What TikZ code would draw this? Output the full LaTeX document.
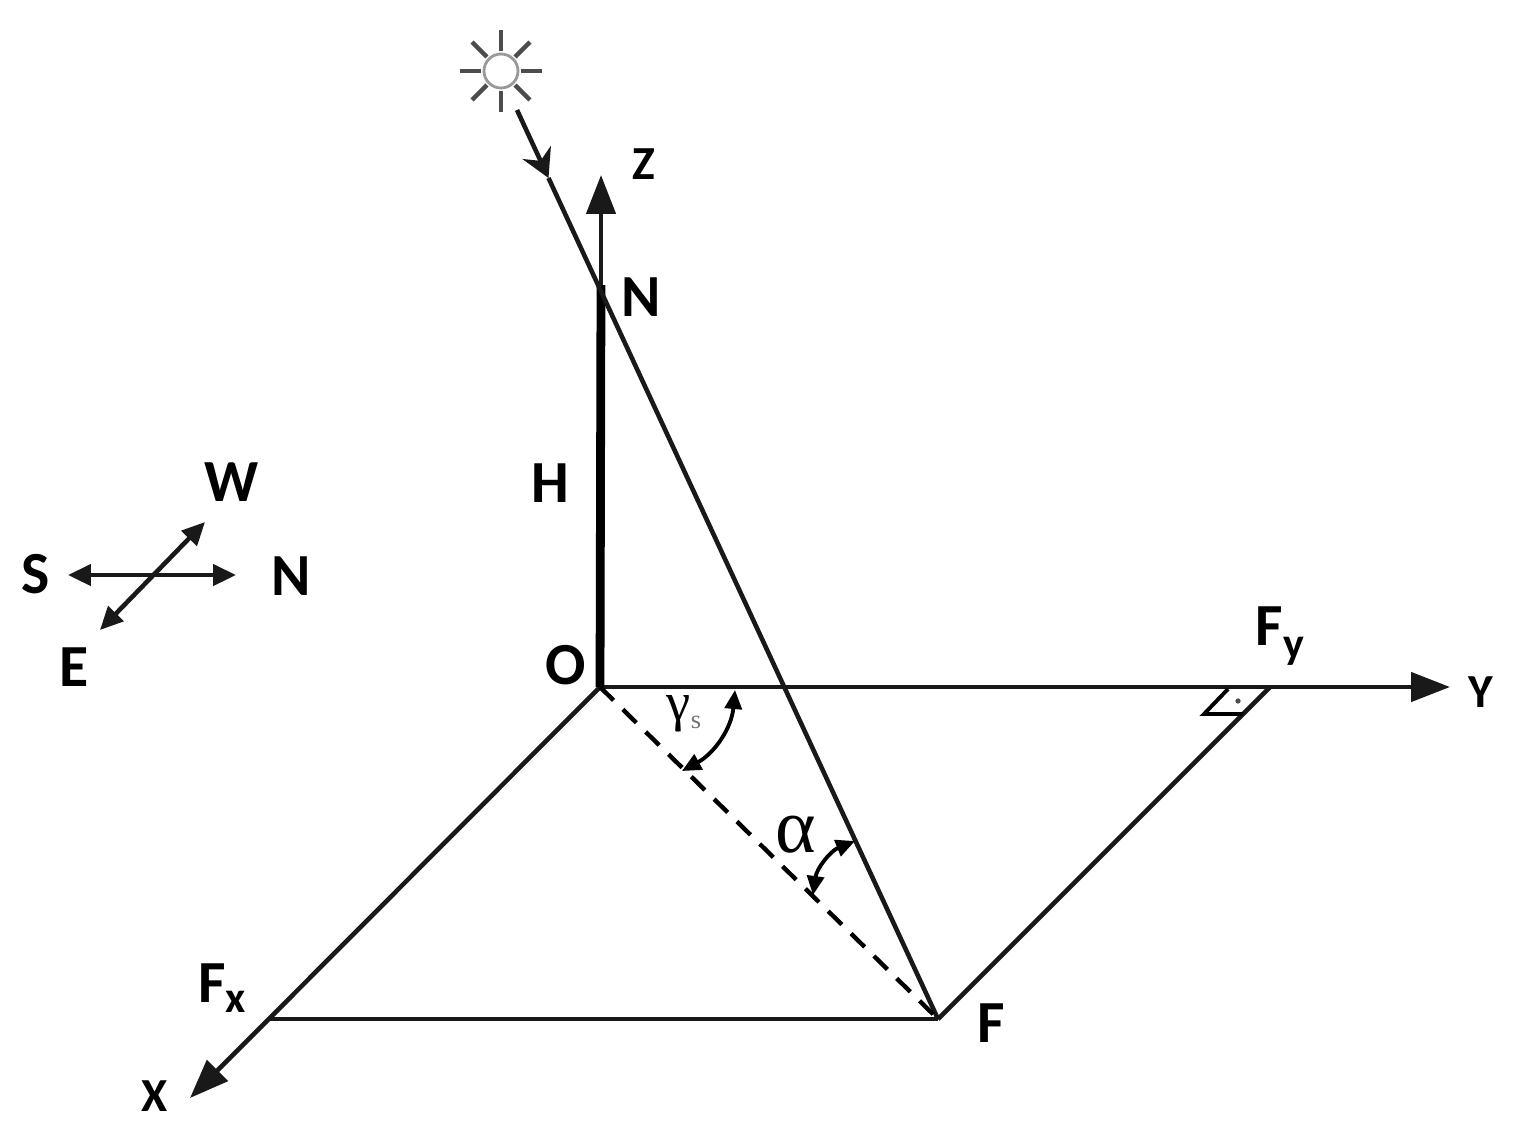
\documentclass[tikz,border=0pt]{standalone}
\usepackage{amsmath}
\usepackage{xcolor}
\usepackage{fontspec}
\setmainfont{Carlito}
\newfontfamily\greekfont{Liberation Serif}
\usetikzlibrary{arrows.meta}

\begin{document}
\begin{tikzpicture}[
    x=0.02cm,
    y=-0.02cm,
    line/.style={line width=2.6pt, black!90},
    axis/.style={line, -{Triangle[length=0.78cm, width=0.58cm]}},
    compass/.style={line, {Triangle[length=0.46cm, width=0.42cm]}-{Triangle[length=0.46cm, width=0.42cm]}},
    angle/.style={line width=2.2pt, {Triangle[length=0.38cm, width=0.34cm]}-{Triangle[length=0.38cm, width=0.34cm]}},
    big/.style={font=\fontsize{34}{34}\selectfont\bfseries, inner sep=0pt},
    small/.style={font=\fontsize{27}{27}\selectfont\bfseries, inner sep=0pt},
    sunray/.style={line width=2.6pt, black!70}
]
\useasboundingbox (0,0) rectangle (1524,1140);

% Points
\coordinate (O) at (600,687);
\coordinate (N) at (601,285);
\coordinate (F) at (938,1019);
\coordinate (Fx) at (270,1019);
\coordinate (Fy) at (1270,687);
\coordinate (Xtip) at (190,1098);
\coordinate (Ytip) at (1450,687);
\coordinate (Ztip) at (601,175);
\coordinate (raystart) at (517,110);
\coordinate (raymark) at (548.5,178);

% Sun
\node[circle, draw=black!40, line width=1.6pt, minimum size=0.68cm, inner sep=0pt] (sun) at (501,71) {};
\foreach \a in {0,45,...,315}
    \draw[sunray] (sun.\a) ++(\a:0.03cm) -- ++(\a:0.42cm);

% Axes
\draw[axis] (N) -- (Ztip);
\draw[axis] (O) -- (Ytip);
\draw[axis] (O) -- (Xtip);
\draw[line width=5pt, black] (O) -- (N);

% Sun ray
\draw[line, -{Stealth[length=0.56cm, width=0.62cm]}] (raystart) -- (raymark);
\draw[line] (raymark) -- (F);

% Ground
\draw[line] (Fx) -- (F);
\draw[line] (F) -- (Fy);
\draw[line width=2.5pt, dash pattern=on 0.38cm off 0.26cm] (O) -- (F);

% Right angle
\coordinate (ra1) at (1228,689);
\coordinate (ra2) at (1204,714);
\coordinate (ra3) at (1243,714);
\draw[line width=2.2pt] (ra1) -- (ra2) -- (ra3);
\node[circle, fill=black!70, inner sep=0pt, minimum size=3pt] (radot) at (1238,701) {};

% Angles
\coordinate (g1) at (735,690);
\coordinate (g2) at (682,771);
\coordinate (a1) at (855,841);
\coordinate (a2) at (813,895);
\draw[angle] (g1) to[bend left=28] (g2);
\draw[angle] (a1) to[bend right=30] (a2);

% Labels
\node[small] (zlabel) at (644,164) {Z};
\node[big] (nlabel) at (641,297) {N};
\node[big] (hlabel) at (550,483) {H};
\node[big] (olabel) at (566,665) {O};
\node[big] (fylabel) at (1280,636) {F\raisebox{-0.22em}{\fontsize{25}{25}\selectfont y}};
\node[small] (ylabel) at (1481,692) {Y};
\node[big] (flabel) at (991,1023) {F};
\node[big] (fxlabel) at (222,988) {F\raisebox{-0.18em}{\fontsize{25}{25}\selectfont x}};
\node[small] (xlabel) at (155,1096) {X};
\node[inner sep=0pt] (alphalabel) at (796,835) {\fontsize{44}{44}\selectfont\greekfont α};
\node[inner sep=0pt] (gammalabel) at (684,714) {\fontsize{31}{31}\selectfont\greekfont γ\raisebox{-0.15em}{\fontsize{15}{15}\selectfont\textcolor{black!55}{s}}};

% Compass
\node[big] (south) at (36,574) {S};
\node[big] (north) at (291,576) {N};
\node[big] (west) at (232,482) {W};
\node[big] (east) at (74,667) {E};
\coordinate (cs) at (68,575);
\coordinate (cn) at (236,575);
\coordinate (cw) at (205,522);
\coordinate (ce) at (100,630);
\draw[compass] (cs) -- (cn);
\draw[compass] (ce) -- (cw);

\end{tikzpicture}
\end{document}
